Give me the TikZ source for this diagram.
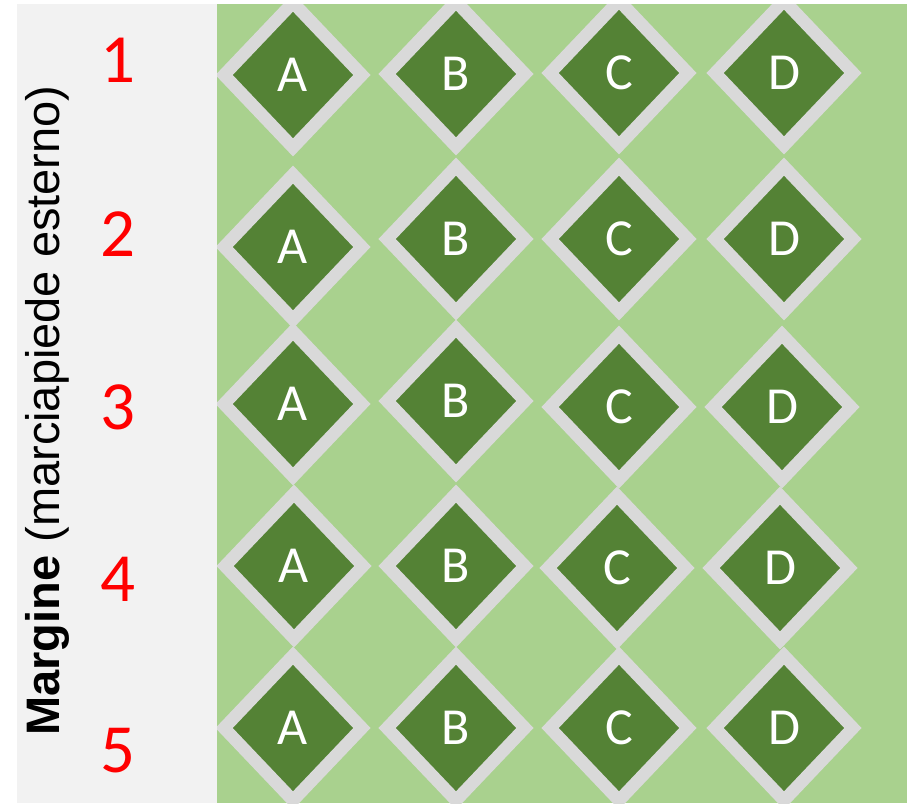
\documentclass[tikz,border=0pt]{standalone}
\usepackage{fontspec}
\usetikzlibrary{shapes.geometric}
\newfontfamily\carlito{Carlito}
\newfontfamily\arialf{Liberation Sans}
\definecolor{panelgray}{HTML}{F2F2F2}
\definecolor{lawn}{HTML}{A9D18E}
\definecolor{tree}{HTML}{548235}
\definecolor{rim}{HTML}{D9D9D9}
\definecolor{numred}{HTML}{FF0000}
\begin{document}
\begin{tikzpicture}[x=1pt,y=-1pt,
  plant/.style={shape=diamond, fill=tree, draw=rim, line width=12.5pt,
    minimum width=143pt, minimum height=150pt, inner sep=0pt, text=white,
    font=\carlito\fontsize{52}{52}\selectfont},
  rownum/.style={text=numred, inner sep=0pt, font=\carlito\fontsize{69}{69}\selectfont},
  sidelabel/.style={rotate=90, anchor=base west, inner sep=0pt,
    font=\arialf\fontsize{47}{47}\selectfont}]
\useasboundingbox (0,0) rectangle (907,803);
\fill[white] (0,0) rectangle (907,803);
\fill[panelgray] (17,4) rectangle (217,803);
\fill[lawn] (217,4) rectangle (907,803);
\begin{scope}
\clip (217,4) rectangle (907,803);
% row 1
\node[plant] (a1) at (293,75) {A};
\node[plant] (b1) at (456,74) {B};
\node[plant] (c1) at (619,73) {C};
\node[plant] (d1) at (784,73) {D};
% row 2
\node[plant] (a2) at (293,247) {A};
\node[plant] (b2) at (456,239) {B};
\node[plant] (c2) at (619,239) {C};
\node[plant] (d2) at (784,239) {D};
% row 3
\node[plant] (a3) at (293,404) {A};
\node[plant] (b3) at (456,401) {B};
\node[plant] (c3) at (619,407) {C};
\node[plant] (d3) at (782,407) {D};
% row 4
\node[plant] (a4) at (294,566) {A};
\node[plant] (b4) at (456,566) {B};
\node[plant] (c4) at (617,568) {C};
\node[plant] (d4) at (780,568) {D};
% row 5
\node[plant] (a5) at (293,728) {A};
\node[plant] (b5) at (456,728) {B};
\node[plant] (c5) at (619,728) {C};
\node[plant] (d5) at (784,728) {D};
\end{scope}
\node[rownum] (n1) at (118,60) {1};
\node[rownum] (n2) at (118,234) {2};
\node[rownum] (n3) at (118,407) {3};
\node[rownum] (n4) at (118,579) {4};
\node[rownum] (n5) at (118,751) {5};
\node[sidelabel] (margin) at (59.5,736) {\textbf{Margine} (marciapiede esterno)};
\end{tikzpicture}
\end{document}
